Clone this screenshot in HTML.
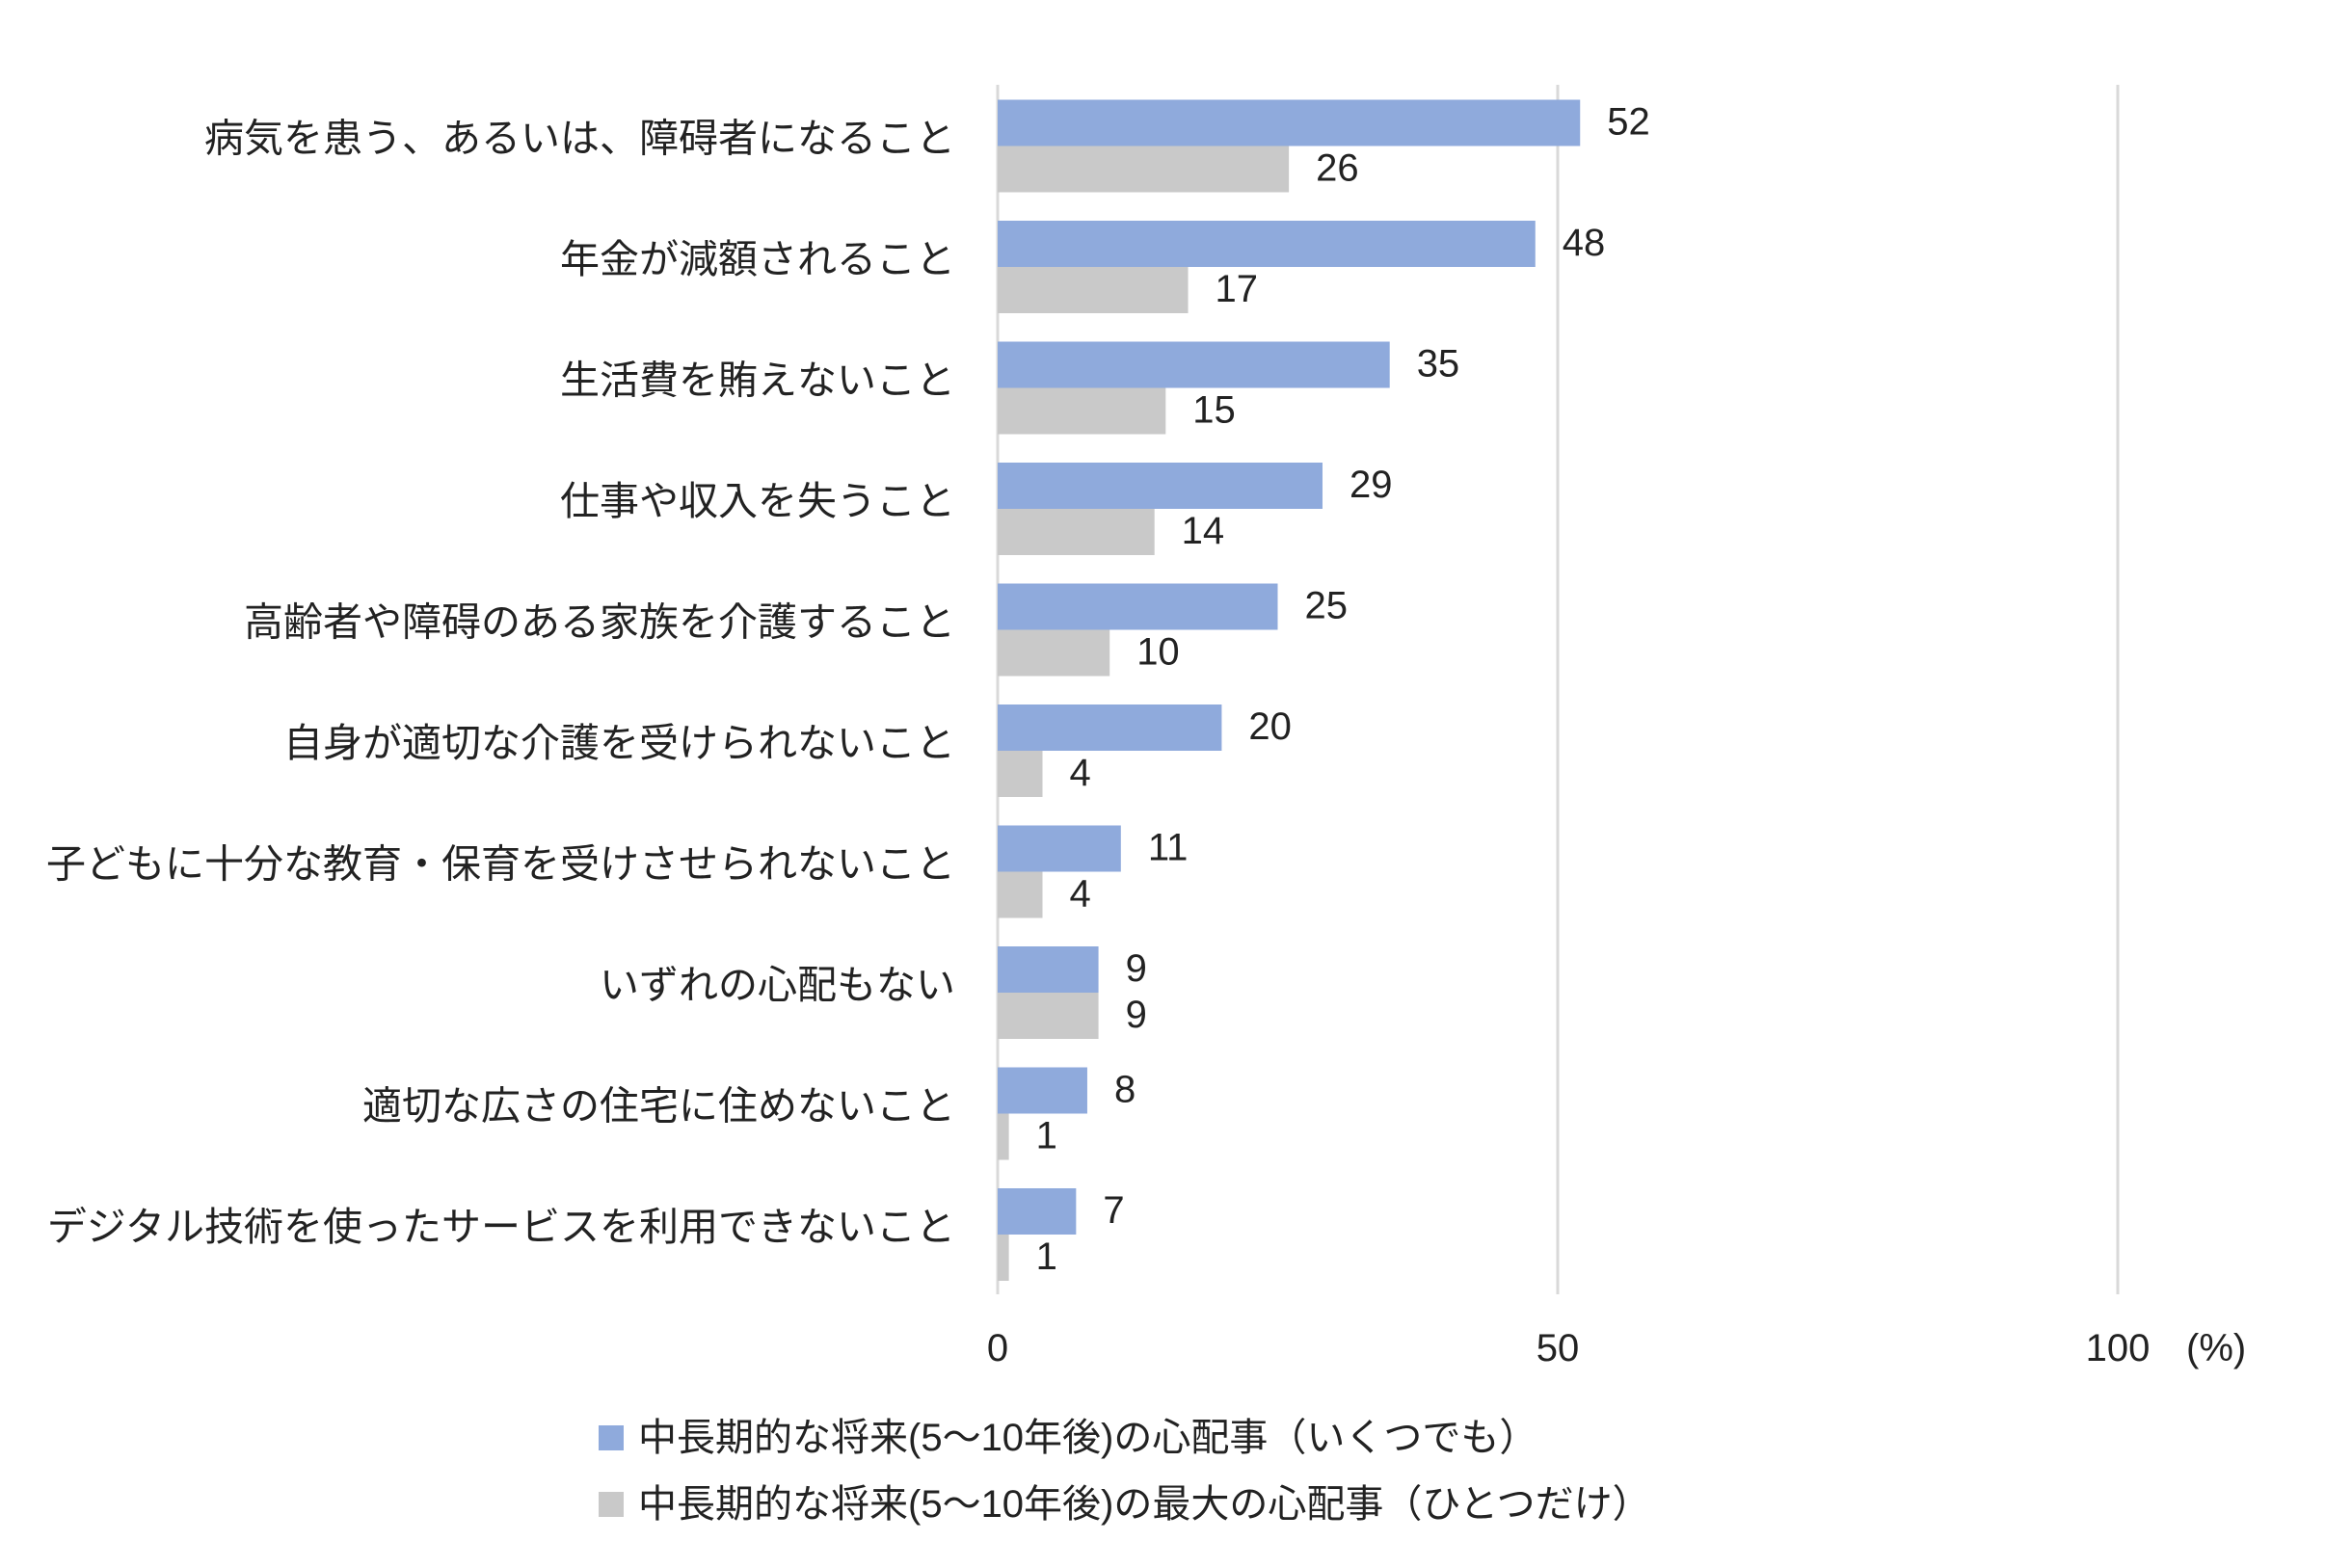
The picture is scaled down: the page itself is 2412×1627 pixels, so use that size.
<!DOCTYPE html>
<html><head><meta charset="utf-8">
<style>
html,body{margin:0;padding:0;background:#fff;}
svg{display:block;font-family:"Liberation Sans","Noto Sans CJK JP",sans-serif;}
</style></head>
<body>
<svg id="chart" width="2412" height="1627" viewBox="0 0 2412 1627" xmlns="http://www.w3.org/2000/svg">
<g id="grid"></g>
<g id="bars"></g>
<g id="labels"></g>
<g id="xticks"></g>
<text x="2268" y="1412" font-size="40" fill="#222">(%)</text>
<g>
  <g>
    <rect x="621" y="1479" width="26" height="26" fill="#8faadc"></rect>
    <text x="662" y="1505" font-size="40" fill="#222">中長期的な将来(5～10年後)の心配事（いくつでも）</text>
  </g>
  <g>
    <rect x="621" y="1548" width="26" height="26" fill="#c9c9c9"></rect>
    <text x="662" y="1574" font-size="40" fill="#222">中長期的な将来(5～10年後)の最大の心配事（ひとつだけ）</text>
  </g>
</g>
</svg>
<script>
const categories = ["病気を患う、あるいは、障碍者になること","年金が減額されること","生活費を賄えないこと","仕事や収入を失うこと","高齢者や障碍のある家族を介護すること","自身が適切な介護を受けられないこと","子どもに十分な教育・保育を受けさせられないこと","いずれの心配もない","適切な広さの住宅に住めないこと","デジタル技術を使ったサービスを利用できないこと"];
const seriesAny = [52,48,35,29,25,20,11,9,8,7];
const seriesBiggest = [26,17,15,14,10,4,4,9,1,1];
const xTicks = [0,50,100];

const NS = "http://www.w3.org/2000/svg";
const x0 = 1035, xPerUnit = (2197-1035)/100;
const top0 = 88, band = 125.5, barH = 48, barOff = 15.5;
const xs = v => x0 + v*xPerUnit;
const yBand = i => top0 + i*band;
function mk(tag, attrs, parent){const e=document.createElementNS(NS,tag);for(const k in attrs)e.setAttribute(k,attrs[k]);parent.appendChild(e);return e;}
const grid=document.getElementById('grid'), bars=document.getElementById('bars'), labels=document.getElementById('labels'), xt=document.getElementById('xticks');
xTicks.forEach(t=>{
  const l=mk('line',{x1:xs(t),x2:xs(t),y1:top0,y2:top0+band*categories.length,stroke:'#d9d9d9','stroke-width':3},grid);
  
  
  const tx=mk('text',{x:xs(t),y:1412,'font-size':40,fill:'#222','text-anchor':'middle'},xt);
  tx.textContent=t;
  
  
});
categories.forEach((c,i)=>{
  const yb=yBand(i);
  const t=mk('text',{x:991,y:yb+barOff+barH+6,'font-size':41,fill:'#222','text-anchor':'end'},labels);
  t.textContent=c;
  
  
  [[seriesAny[i],'#8faadc',yb+barOff,'bar-any'],[seriesBiggest[i],'#c9c9c9',yb+barOff+barH,'bar-biggest']].forEach(([v,col,y,nm])=>{
    const r=mk('rect',{x:x0,y:y,width:Math.max(0,xs(v)-x0),height:barH,fill:col},bars);
    
    
    const vt=mk('text',{x:xs(v)+28,y:y+barH/2+12,'font-size':40,fill:'#222'},bars);
    vt.textContent=v;
    
    
  });
});
</script>
</body></html>
